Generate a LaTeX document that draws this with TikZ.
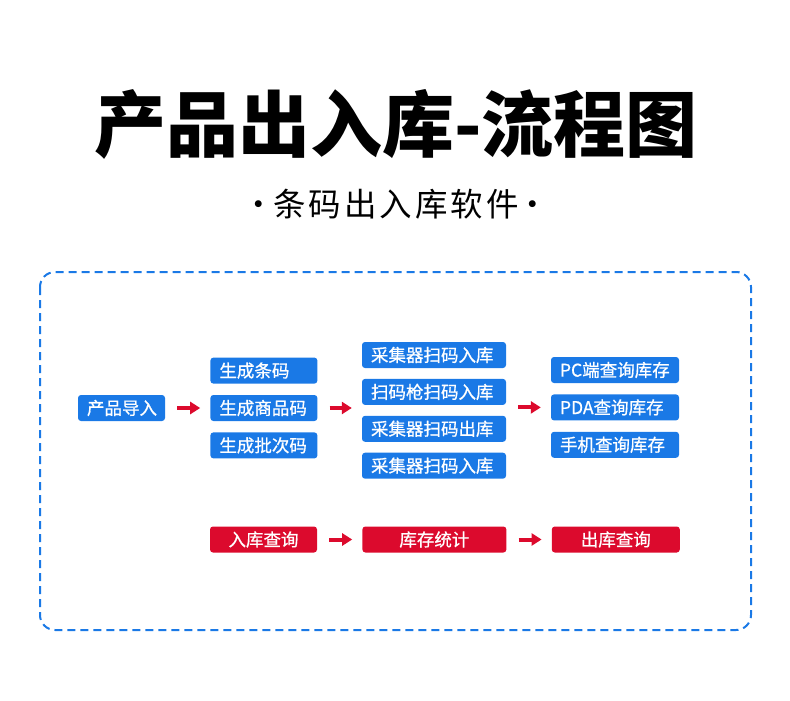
\documentclass[tikz,border=0pt]{standalone}
\usepackage{fontspec}
\newfontfamily\cjk[FakeBold=0.8]{Noto Sans CJK SC}
\newfontfamily\cjktitulo{Noto Sans CJK SC}
\newfontfamily\cjksub[LetterSpace=9]{Noto Sans CJK SC}
\usetikzlibrary{positioning, arrows.meta}
\definecolor{azul}{RGB}{26,121,230}
\definecolor{rojo}{RGB}{220,10,45}

\begin{document}
\begin{tikzpicture}[x=1pt, y=-1pt, node distance=11pt and 45pt]
	% Estilos de cajas y flechas
	\tikzset{
		box/.style={
				rectangle, fill=azul, rounded corners=3pt,
				text=white, align=left, minimum height=26pt,
				inner xsep=9pt, inner ysep=0pt,
				font=\cjk\fontsize{17.5}{17.5}\selectfont
			},
		redbox/.style={
				box, fill=rojo, align=center
			},
		line/.style={
				draw=rojo, line width=4pt, -{Triangle[length=10pt, width=12pt]},
				shorten <=12pt, shorten >=10pt
			}
	}
	\useasboundingbox (0,0) rectangle (790,701);

	% Titulo y subtitulo
	\node[font=\cjktitulo\bfseries\fontsize{72}{72}\selectfont] (titulo) at (396,124) {产品出入库-流程图};
	\node[font=\cjksub\fontsize{32.5}{32.5}\selectfont] (subtitulo) at (396,204) {·\kern-2pt 条码出入库软件\kern-2pt ·};

	% Marco punteado
	\draw[azul, line width=2pt, dash pattern=on 8pt off 5pt, rounded corners=15pt] (40,272) rectangle (751,630);

	% Cajas azules por columna
	\node[box, text width=69pt] (imp) at (121.5,408) {产品导入};
	\node[box, text width=89pt, right=of imp] (g2) {生成商品码};
	\node[box, text width=89pt, above=of g2] (g1) {生成条码};
	\node[box, text width=89pt, below=of g2] (g3) {生成批次码};

	\node[box, text width=126pt] (s1) at (434,355) {采集器扫码入库};
	\node[box, text width=126pt, below=10.5pt of s1] (s2) {扫码枪扫码入库};
	\node[box, text width=126pt, below=10.5pt of s2] (s3) {采集器扫码出库};
	\node[box, text width=126pt, below=10.5pt of s3] (s4) {采集器扫码入库};

	\node[box, text width=110pt] (p1) at (615,370) {PC端查询库存};
	\node[box, text width=110pt, below=of p1] (p2) {PDA查询库存};
	\node[box, text width=110pt, below=of p2] (p3) {手机查询库存};

	% Cajas rojas
	\node[redbox, text width=89pt] (r1) at (263.5,539.5) {入库查询};
	\node[redbox, text width=126pt, right=of r1] (r2) {库存统计};
	\node[redbox, text width=110pt, right=of r2] (r3) {出库查询};

	% Flechas
	\draw[line] (imp) -- (g2);
	\draw[line] (g2.east) -- (g2.east -| s2.west);
	\draw[line] (s2.east |- p2.west) -- (p2.west);
	\foreach \from/\to in {r1/r2, r2/r3} {
			\draw[line] (\from) -- (\to);
		}
\end{tikzpicture}
\end{document}
